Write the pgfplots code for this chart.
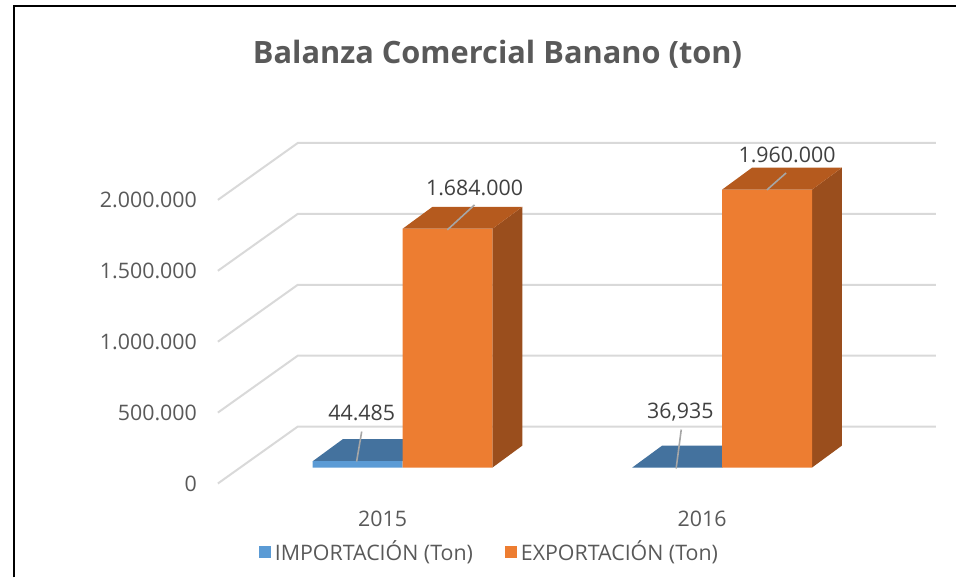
\documentclass[border=0pt]{standalone}
\usepackage{pgfplots}
\pgfplotsset{compat=1.18}
\usepackage{pgfplotstable}
\usepackage{fontspec}
\setmainfont{Open Sans}
\definecolor{txt}{HTML}{595959}
\definecolor{lbl}{HTML}{404040}
\definecolor{gridc}{HTML}{D9D9D9}
\definecolor{impfront}{HTML}{5B9BD5}
\definecolor{imptop}{HTML}{44729E}
\definecolor{expfront}{HTML}{ED7D31}
\definecolor{exptop}{HTML}{B55A1E}
\definecolor{expside}{HTML}{9A4E1D}
\definecolor{leader}{HTML}{A6A6A6}

% x: 0 = 2015, 1 = 2016 ; imp, exp in tons
\pgfplotstableread{
x imp exp
0 44485 1684000
1 36.935 1960000
}\datatable

\begin{document}
\begin{tikzpicture}
\begin{axis}[
  scale only axis, width=478.5pt, height=289pt,
  xmin=-1.259375, xmax=1.73125, ymin=-774648, ymax=3295775,
  axis line style={draw=none}, major tick length=0pt,
  clip=false, scaled y ticks=false, scaled x ticks=false,
  ytick={0,500000,1000000,1500000,2000000},
  yticklabels={0,500.000,1.000.000,1.500.000,2.000.000},
  yticklabel style={anchor=east, xshift=102pt, yshift=-8pt,
    font=\fontsize{10.7}{12}\selectfont, text=txt},
  xtick={0,1}, xticklabels={2015,2016},
  xticklabel style={anchor=center, xshift=-10pt, yshift=29.5pt,
    font=\fontsize{10.7}{12}\selectfont, text=txt},
  legend style={at={(0.513,0.0433)}, anchor=center, draw=none, fill=none,
    legend columns=2, font=\fontsize{10.7}{12}\selectfont, text=txt,
    /tikz/every even column/.append style={column sep=14pt}},
  legend image code/.code={\fill[#1] (0pt,-3pt) rectangle (6pt,3pt);},
]
% frame
\draw[black, line width=1.2pt] (rel axis cs:0.01463,0) -- (rel axis cs:0.01463,0.98962) -- (rel axis cs:1,0.98962);
% back wall and floor grid
\draw[gridc, line width=1pt] (axis cs:-0.578125,-112676) -- (axis cs:-0.328125,288732) -- (axis cs:1.66875,288732);
\draw[gridc, line width=1pt] (axis cs:-0.578125,387324) -- (axis cs:-0.328125,788732) -- (axis cs:1.66875,788732);
\draw[gridc, line width=1pt] (axis cs:-0.578125,887324) -- (axis cs:-0.328125,1288732) -- (axis cs:1.66875,1288732);
\draw[gridc, line width=1pt] (axis cs:-0.578125,1387324) -- (axis cs:-0.328125,1788732) -- (axis cs:1.66875,1788732);
\draw[gridc, line width=1pt] (axis cs:-0.578125,1887324) -- (axis cs:-0.328125,2288732) -- (axis cs:1.66875,2288732);

% IMPORTACION: top faces then front faces
\addplot[fill=imptop, draw=none, forget plot] coordinates {(-0.28125,44485) (0,44485) (0.09375,199415) (-0.1875,199415)} -- cycle;
\addplot[fill=imptop, draw=none, forget plot] coordinates {(0.71875,36.935) (1,36.935) (1.09375,154966.935) (0.8125,154966.935)} -- cycle;
\addplot[ybar, bar width=0.28125, bar shift=-0.140625, fill=impfront, draw=none, forget plot] table[x=x, y=imp] {\datatable};

% EXPORTACION: side faces, front faces, top faces
\addplot[fill=expside, draw=none, forget plot] coordinates {(0.28125,0) (0.375,154930) (0.375,1838930) (0.28125,1684000)} -- cycle;
\addplot[fill=expside, draw=none, forget plot] coordinates {(1.28125,0) (1.375,154930) (1.375,2114930) (1.28125,1960000)} -- cycle;
\addplot[ybar, bar width=0.28125, bar shift=0.140625, fill=expfront, draw=none, forget plot] table[x=x, y=exp] {\datatable};
\addplot[fill=exptop, draw=none, forget plot] coordinates {(0,1684000) (0.28125,1684000) (0.375,1838930) (0.09375,1838930)} -- cycle;
\addplot[fill=exptop, draw=none, forget plot] coordinates {(1,1960000) (1.28125,1960000) (1.375,2114930) (1.09375,2114930)} -- cycle;

% leader lines
\draw[leader, line width=0.8pt] (axis cs:0.14,1676056) -- (axis cs:0.225,1852113);
\draw[leader, line width=0.8pt] (axis cs:1.14,1957746) -- (axis cs:1.2,2077465);
\draw[leader, line width=0.8pt] (axis cs:-0.144,42254) -- (axis cs:-0.128,253521);
\draw[leader, line width=0.8pt] (axis cs:0.856,-7042) -- (axis cs:0.872,267606);

% data labels
\node[font=\fontsize{10.7}{12}\selectfont, text=lbl] at (axis cs:0.225,1971831) {1.684.000};
\node[font=\fontsize{10.7}{12}\selectfont, text=lbl] at (axis cs:1.203,2204225) {1.960.000};
\node[font=\fontsize{10.7}{12}\selectfont, text=lbl] at (axis cs:-0.128,387324) {44.485};
\node[font=\fontsize{10.7}{12}\selectfont, text=lbl] at (axis cs:0.869,387324) {36,935};

% title
\node[font=\fontsize{15.4}{18}\selectfont\bfseries, text=txt, anchor=base] at (rel axis cs:0.5204,0.891) {Balanza Comercial Banano (ton)};

\addlegendimage{fill=impfront, draw=none}
\addlegendentry{IMPORTACIÓN (Ton)}
\addlegendimage{fill=expfront, draw=none}
\addlegendentry{EXPORTACIÓN (Ton)}
\end{axis}
\end{tikzpicture}
\end{document}
